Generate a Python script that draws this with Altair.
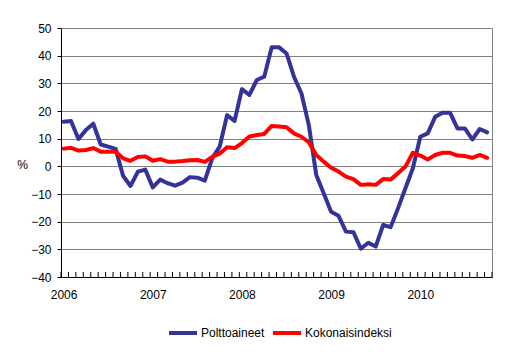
import altair as alt
import pandas as pd

series_names = ["Polttoaineet", "Kokonaisindeksi"]
series_colors = ["#333399", "#ff0000"]
first_year = 2006

polttoaineet = [16.1, 16.4, 9.9, 13.1, 15.4, 7.9, 7.1, 6.3, -3.4, -7.1, -1.9, -1.2,
                -7.6, -4.8, -6.1, -7.0, -5.9, -3.9, -4.1, -5.2, 2.9, 7.1, 18.5, 16.4,
                27.9, 25.8, 31.2, 32.4, 43.0, 43.0, 40.8, 32.4, 26.4, 14.9, -3.1, -9.7,
                -16.4, -17.9, -23.6, -23.8, -29.8, -27.6, -29.0, -21.2, -22.0, -15.2, -7.9, -0.7,
                10.7, 11.9, 17.9, 19.4, 19.4, 13.7, 13.7, 9.7, 13.5, 12.3]
kokonaisindeksi = [6.4, 6.7, 5.7, 5.9, 6.6, 5.3, 5.3, 5.3, 2.9, 2.0, 3.4, 3.6,
                   2.0, 2.6, 1.7, 1.7, 1.9, 2.2, 2.3, 1.6, 3.4, 4.6, 6.9, 6.6,
                   8.4, 10.8, 11.3, 11.7, 14.6, 14.4, 14.1, 11.9, 10.7, 8.7, 4.1, 1.7,
                   -0.5, -1.9, -3.7, -4.6, -6.7, -6.5, -6.7, -4.6, -4.8, -2.5, -0.1, 4.9,
                   3.9, 2.5, 4.1, 4.9, 4.9, 3.9, 3.7, 3.1, 4.1, 3.1]
year_ticks = [0, 12, 24, 36, 48]
y_ticks = [-40, -30, -20, -10, 0, 10, 20, 30, 40, 50]

n = len(polttoaineet)
df = pd.DataFrame({
    "m": list(range(n)) * 2,
    "series": [series_names[0]] * n + [series_names[1]] * n,
    "v": polttoaineet + kokonaisindeksi,
})
ticks_df = pd.DataFrame({"k": list(range(n + 1))})

FONT = "Liberation Sans"
xscale = alt.Scale(domain=[-0.35, n - 0.35], nice=False, zero=False)
xaxis = alt.Axis(values=year_ticks, labelExpr=f"'' + ({first_year} + datum.value / 12)",
                 ticks=False, grid=False, domainColor="#000000", labelPadding=12,
                 labelFontSize=12, labelFont=FONT, labelColor="#000000", title=None)

lines = alt.Chart(df).mark_line(strokeWidth=4, strokeCap="round", strokeJoin="round").encode(
    x=alt.X("m:Q", scale=xscale, axis=xaxis),
    y=alt.Y("v:Q", scale=alt.Scale(domain=[-40, 50], nice=False),
            axis=alt.Axis(values=y_ticks, grid=True, gridColor="#808080", domainColor="#000000",
                          tickColor="#000000", tickSize=4, labelPadding=6, labelFontSize=12,
                          labelFont=FONT, labelColor="#000000", title="%", titleAngle=0,
                          titleX=-39, titleY=136, titleFontWeight="normal", titleFontSize=12,
                          titleFont=FONT, titleAlign="center", titleBaseline="middle")),
    color=alt.Color("series:N", scale=alt.Scale(domain=series_names, range=series_colors),
                    legend=alt.Legend(orient="none", legendX=106, legendY=289, direction="horizontal",
                                      title=None, symbolType="stroke", symbolSize=784,
                                      symbolStrokeWidth=4, labelFontSize=12, labelFont=FONT,
                                      labelColor="#000000", labelOffset=2, columnPadding=0)),
)

tick_rules = alt.Chart(ticks_df).transform_calculate(tx="datum.k - 0.35").mark_rule(
    color="#000000", strokeWidth=1).encode(
    x=alt.X("tx:Q", scale=xscale, axis=xaxis),
    y=alt.value(244), y2=alt.value(249),
)

chart = alt.layer(lines, tick_rules).properties(
    width=431, height=249,
    autosize=alt.AutoSizeParams(type="none"),
    padding={"left": 53, "top": 20, "right": 12, "bottom": 70},
).configure_view(stroke="#808080", strokeWidth=1)

chart.save("out.html", embed_options={"renderer": "svg", "actions": False})
